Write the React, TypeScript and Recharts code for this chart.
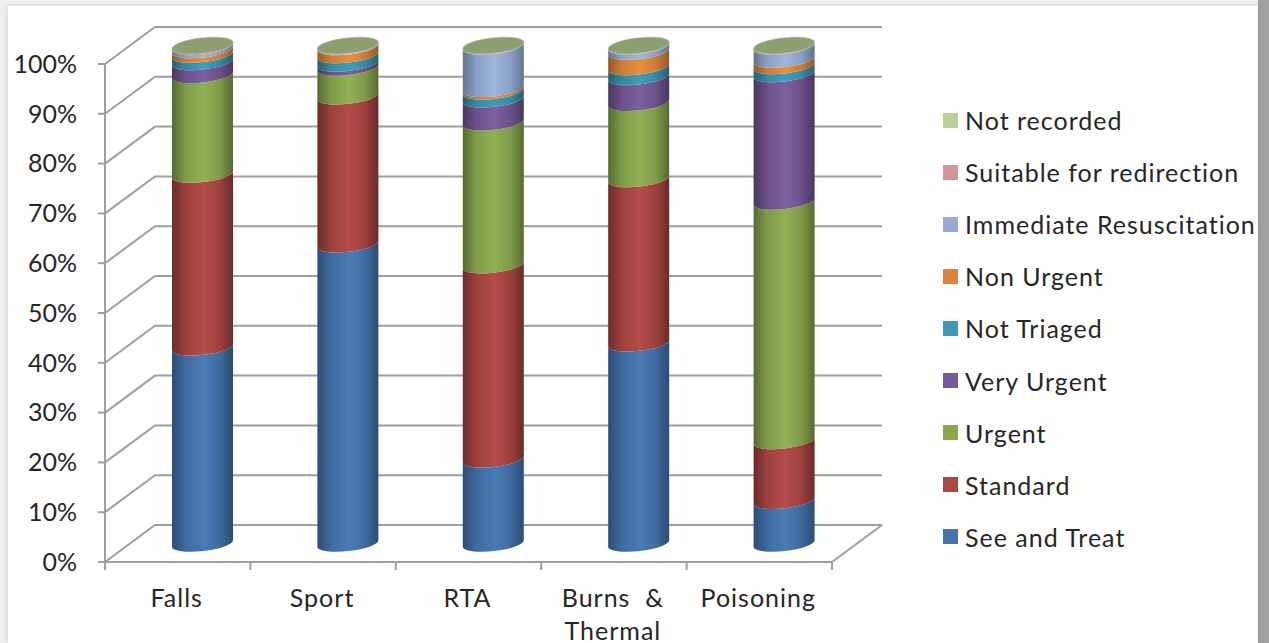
import React from "react";
import { BarChart, Bar, XAxis, YAxis, CartesianGrid, Legend } from "recharts";

const categories = ["Falls", "Sport", "RTA", "Burns & Thermal", "Poisoning"];
const categoryLines = [["Falls"], ["Sport"], ["RTA"], ["Burns  &", "Thermal"], ["Poisoning"]];
const seeAndTreat = [39.4, 60.1, 16.9, 40.2, 8.6];
const standard = [34.7, 29.7, 39.0, 33.0, 12.0];
const urgent = [20.0, 5.8, 28.7, 15.3, 48.1];
const veryUrgent = [2.6, 0.8, 4.6, 5.2, 25.6];
const notTriaged = [1.5, 1.7, 1.6, 2.0, 1.6];
const nonUrgent = [0.9, 1.6, 0.5, 3.1, 1.3];
const immediate = [0.6, 0.1, 8.5, 1.0, 2.6];
const suitable = [0.2, 0.1, 0.1, 0.1, 0.1];
const notRecorded = [0.1, 0.1, 0.1, 0.1, 0.1];
const yTicks = [0, 10, 20, 30, 40, 50, 60, 70, 80, 90, 100];

const series = [
  { key: "seeAndTreat", name: "See and Treat", values: seeAndTreat, swatch: "#4674aa", light: "#4a7bb5", mid: "#3f6a9e", dark: "#2c4c74" },
  { key: "standard", name: "Standard", values: standard, swatch: "#ab4744", light: "#b54c48", mid: "#9c403d", dark: "#6a2b29" },
  { key: "urgent", name: "Urgent", values: urgent, swatch: "#8aa84e", light: "#93b054", mid: "#7f9a48", dark: "#566b30" },
  { key: "veryUrgent", name: "Very Urgent", values: veryUrgent, swatch: "#76599a", light: "#7c5f9f", mid: "#6b5189", dark: "#483760" },
  { key: "notTriaged", name: "Not Triaged", values: notTriaged, swatch: "#3f9ab2", light: "#3f9fb8", mid: "#368aa0", dark: "#25606f" },
  { key: "nonUrgent", name: "Non Urgent", values: nonUrgent, swatch: "#dd843c", light: "#e98f40", mid: "#cc7c38", dark: "#935a28" },
  { key: "immediate", name: "Immediate Resuscitation", values: immediate, swatch: "#94abd4", light: "#9db5de", mid: "#8a9fc4", dark: "#637490" },
  { key: "suitable", name: "Suitable for redirection", values: suitable, swatch: "#d39596", light: "#d69899", mid: "#bd8687", dark: "#8e6465" },
  { key: "notRecorded", name: "Not recorded", values: notRecorded, swatch: "#bad096", light: "#bad096", mid: "#a5b885", dark: "#7b8a63" },
];

const rows = categories.map((category, i) => {
  const row: Record<string, string | number> = { category };
  series.forEach((s) => {
    row[s.key] = s.values[i];
  });
  return row;
});

const FONT = "Lato, Carlito, sans-serif";
const TEXT = "#262626";
const GRID = "#9f9f9f";
const DX = 50;
const DY = -37;
const BAND = 145.4;
const TILT = 3.4;
const RY = 7.6;
const ROT = -6.4;
const LABEL_STYLE = { fontSize: 25, fontFamily: FONT, letterSpacing: 1 };

function cylinder(seriesKey: string, isLast: boolean) {
  return (props: any) => {
    const { x, y, width, height } = props;
    const cx = x + width / 2 + DX / 2;
    const r = width / 2;
    const top = y + DY / 2;
    const bottom = top + height;
    const rx = Math.sqrt(r * r + TILT * TILT);
    const d = [
      `M${cx - r},${top + TILT}`,
      `L${cx - r},${bottom + TILT}`,
      `A${rx},${RY} ${ROT} 0 0 ${cx + r},${bottom - TILT}`,
      `L${cx + r},${top - TILT}`,
      `A${rx},${RY} ${ROT} 0 1 ${cx - r},${top + TILT}`,
      "Z",
    ].join(" ");
    return (
      <g>
        <path d={d} fill={`url(#grad-${seriesKey})`} />
        {isLast && (
          <ellipse cx={cx} cy={top} rx={rx} ry={RY} fill="#8d9f71" stroke="#a0ad8c" strokeWidth={0.6} transform={`rotate(${ROT} ${cx} ${top})`} />
        )}
      </g>
    );
  };
}

function wallLine(props: any) {
  const { x1, x2, y1, key, index } = props;
  const isFloor = Math.abs(y1 - 562) < 1;
  return (
    <g key={key ?? index} fill="none" stroke={GRID} strokeWidth={2}>
      <path d={`M${x1},${y1} L${x1 + DX},${y1 + DY} L${x2 + DX},${y1 + DY}`} />
      {isFloor && <path d={`M${x2},${y1} L${x2 + DX},${y1 + DY}`} />}
    </g>
  );
}

function CategoryTick(props: any) {
  const { x, y, index } = props;
  const axisY = 562;
  const lines = categoryLines[index] ?? [];
  return (
    <g>
      <path d={`M${x - BAND / 2},${axisY} V${axisY + 8}`} stroke={GRID} strokeWidth={2} />
      {index === categories.length - 1 && <path d={`M${x + BAND / 2},${axisY} V${axisY + 8}`} stroke={GRID} strokeWidth={2} />}
      <text textAnchor="middle" style={{ ...LABEL_STYLE, whiteSpace: "pre" }} fill={TEXT}>
        {lines.map((line, i) => (
          <tspan key={line} x={x - 1} y={y + 43 + i * 33}>
            {line}
          </tspan>
        ))}
      </text>
    </g>
  );
}

function LegendBody() {
  return (
    <div>
      {[...series].reverse().map((s) => (
        <div key={s.key} style={{ height: 52.1, display: "flex", alignItems: "center", whiteSpace: "nowrap" }}>
          <span style={{ display: "inline-block", width: 15, height: 15, background: s.swatch, marginRight: 7 }} />
          <span style={{ ...LABEL_STYLE, color: TEXT }}>{s.name}</span>
        </div>
      ))}
    </div>
  );
}

export default function App() {
  return (
    <div style={{ position: "absolute", left: 0, top: 0, width: 1269, height: 643, overflow: "hidden", background: "#f0f0f0" }}>
      <div style={{ position: "absolute", left: 1258, top: 0, width: 11, height: 643, background: "#a2a2a2" }} />
      <div style={{ position: "absolute", left: 8, top: 6, width: 1250, height: 637, background: "#ffffff", boxShadow: "0 0 6px rgba(0,0,0,0.12)" }} />
      <div style={{ position: "absolute", left: 0, top: 0 }}>
        <BarChart
          width={1269}
          height={643}
          data={rows}
          margin={{ top: 64, right: 437, bottom: 0, left: 0 }}
          barSize={61}
          style={{ background: "transparent" }}
        >
          <defs>
            {series.map((s) => (
              <linearGradient key={s.key} id={`grad-${s.key}`} x1="0" y1="0" x2="1" y2="0">
                <stop offset="0%" stopColor={s.dark} />
                <stop offset="22%" stopColor={s.mid} />
                <stop offset="52%" stopColor={s.light} />
                <stop offset="78%" stopColor={s.mid} />
                <stop offset="100%" stopColor={s.dark} />
              </linearGradient>
            ))}
          </defs>
          <CartesianGrid vertical={false} horizontal={wallLine} />
          <XAxis
            dataKey="category"
            height={81}
            interval={0}
            tickSize={0}
            tickLine={false}
            axisLine={{ stroke: GRID, strokeWidth: 2 }}
            tick={CategoryTick}
          />
          <YAxis
            width={105}
            domain={[0, 100]}
            ticks={yTicks}
            interval={0}
            tickSize={7}
            tickMargin={21}
            tickFormatter={(v: number) => `${v}%`}
            axisLine={{ stroke: GRID, strokeWidth: 2 }}
            tickLine={{ stroke: GRID, strokeWidth: 2 }}
            tick={{ fontSize: 25, fontFamily: FONT, fill: TEXT }}
          />
          <Legend
            layout="vertical"
            align="center"
            verticalAlign="middle"
            content={<LegendBody />}
            wrapperStyle={{ position: "absolute", left: 943, top: 94, width: 326, height: 470, margin: 0 }}
          />
          {series.map((s, i) => (
            <Bar
              key={s.key}
              dataKey={s.key}
              name={s.name}
              stackId="a"
              fill={s.swatch}
              isAnimationActive={false}
              shape={cylinder(s.key, i === series.length - 1)}
            />
          ))}
        </BarChart>
      </div>
    </div>
  );
}
